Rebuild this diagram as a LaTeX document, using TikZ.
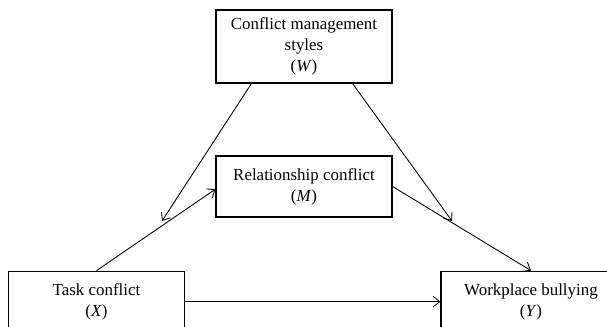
\documentclass[tikz,border=0pt]{standalone}
\usepackage{fontspec}
\setmainfont{Liberation Serif}
\usetikzlibrary{calc,arrows.meta}

\tikzset{box/.style={draw, line width=0.9pt, align=center, inner sep=0pt,
	minimum width=132pt, minimum height=45.75pt, font=\fontsize{12.7}{15.7}\selectfont},
	link/.style={line width=0.65pt, -{Straight Barb[length=5pt,width=8pt]}}}

\begin{document}
\begin{tikzpicture}[x=0.75pt,y=-0.75pt]
	\useasboundingbox (0,0) rectangle (607,326);
	\node[box, minimum height=54.75pt] (W) at (304,46.5) {Conflict management\\styles\\(\textit{W}\/)};
	\node[box] (M) at (304,186.5) {Relationship conflict\\(\textit{M}\/)};
	\node[box] (X) at (96.5,301.7) {Task conflict\\(\textit{X}\/)};
	\node[box, minimum width=135pt] (Y) at (531,301.7) {Workplace bullying\\(\textit{Y}\/)};
	\coordinate (wl) at (162,221);
	\coordinate (wr) at (452,221);
	\draw[link] (X.north) -- ([yshift=-2pt]M.west);
	\draw[link] (X.east) -- (Y.west);
	\draw[link] (M.east) -- (Y.north);
	\draw[link] ([xshift=27pt]W.south west) -- (wl);
	\draw[link] ([xshift=-30pt]W.south east) -- (wr);
\end{tikzpicture}
\end{document}
